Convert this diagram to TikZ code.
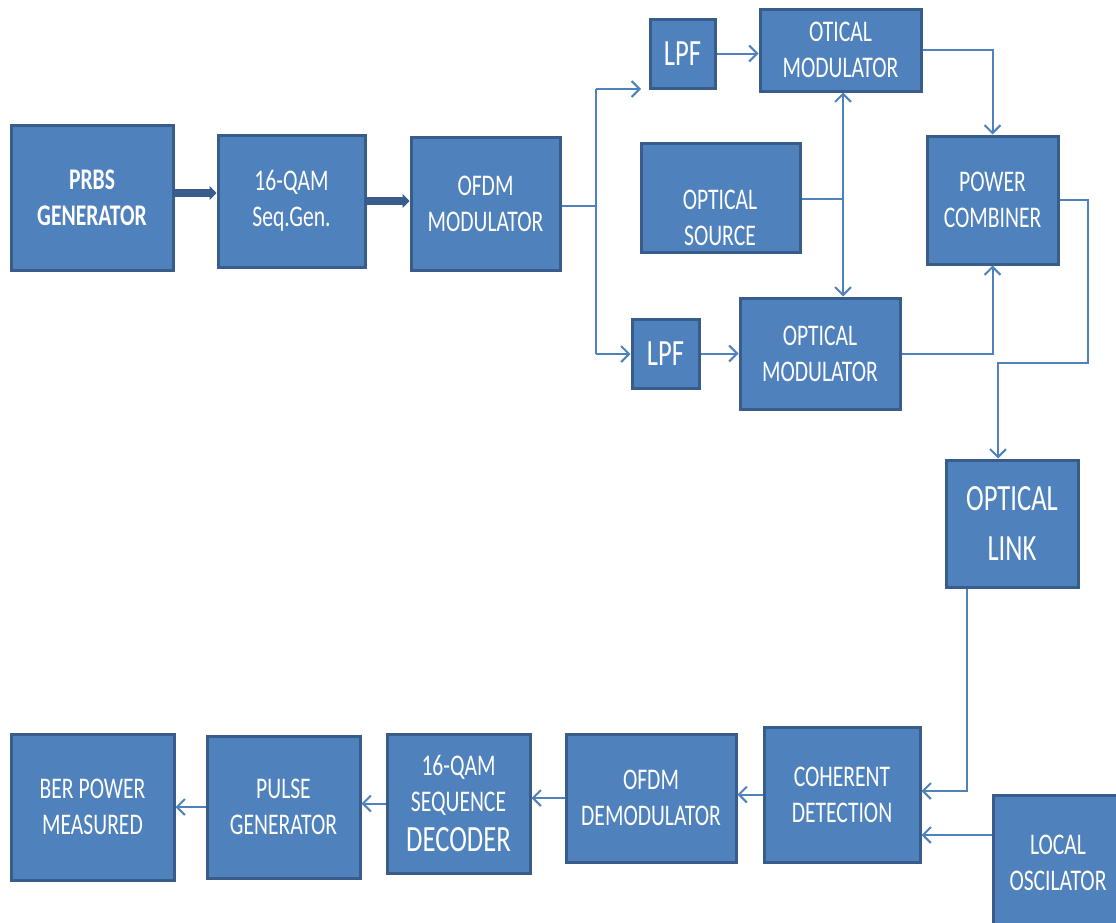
\documentclass[tikz,border=0pt]{standalone}
\usepackage{fontspec}
\usetikzlibrary{arrows.meta}
\newfontfamily\cfont[FakeStretch=0.72]{Carlito}
\definecolor{boxfill}{HTML}{4F81BD}
\definecolor{boxborder}{HTML}{385D8A}
\definecolor{lineblue}{HTML}{4F81BD}
\newcommand\txt{\cfont\fontsize{30}{36}\selectfont}
\newcommand\txtbig{\cfont\fontsize{37}{50}\selectfont}
\tikzset{
  blk/.style={draw=boxborder, fill=boxfill, line width=3pt, inner sep=0pt,
    text=white, align=center, font=\txt},
  conn/.style={draw=lineblue, line width=2pt},
  arr/.style={conn, -{Straight Barb[length=8pt,width=16pt]}},
  dblarr/.style={conn, {Straight Barb[length=8pt,width=16pt]}-{Straight Barb[length=8pt,width=16pt]}},
  fatarr/.style={draw=boxborder, line width=8pt, -{Triangle[length=7pt,width=14pt]}}
}
\begin{document}
\begin{tikzpicture}[x=1pt, y=-1pt]
\useasboundingbox (0,0) rectangle (1116,922);
% top row
\node[blk, minimum width=162pt, minimum height=145pt] (prbs) at (92,198)
  {\bfseries PRBS\\\bfseries GENERATOR};
\node[blk, minimum width=147pt, minimum height=132pt] (qam) at (291.5,201)
  {16-QAM\\Seq.Gen.};
\node[blk, minimum width=149pt, minimum height=133pt] (ofdm) at (485.5,203.5)
  {OFDM\\MODULATOR};
\node[blk, minimum width=65pt, minimum height=69pt, font=\txtbig] (lpf1) at (682.5,53.5) {LPF};
\node[blk, minimum width=161pt, minimum height=82pt] (omod1) at (840.5,50)
  {OTICAL\\MODULATOR};
\node[blk, minimum width=159pt, minimum height=109pt] (src) at (720.5,197.5) {};
\node[text=white, align=center, font=\txt] (srct) at (720,218) {OPTICAL\\SOURCE};
\node[blk, minimum width=131pt, minimum height=128pt] (comb) at (992.5,200)
  {POWER\\COMBINER};
\node[blk, minimum width=67pt, minimum height=69pt, font=\txtbig] (lpf2) at (665.5,353.5) {LPF};
\node[blk, minimum width=160pt, minimum height=111pt] (omod2) at (820,353.5)
  {OPTICAL\\MODULATOR};
\node[blk, minimum width=132pt, minimum height=127pt, font=\txtbig] (link) at (1012,523.5)
  {OPTICAL\\LINK};
% bottom row
\node[blk, minimum width=156pt, minimum height=135pt] (coh) at (842,794.5)
  {COHERENT\\DETECTION};
\node[blk, minimum width=130pt, minimum height=135pt] (lo) at (1058,862.5)
  {LOCAL\\OSCILATOR};
\node[blk, minimum width=170pt, minimum height=128pt] (demod) at (651,798)
  {OFDM\\DEMODULATOR};
\node[blk, minimum width=143pt, minimum height=139pt] (dec) at (458.5,803.5)
  {16-QAM\\SEQUENCE\\[4pt]{\fontsize{37}{44}\selectfont DECODER}};
\node[blk, minimum width=153pt, minimum height=142pt] (pulse) at (283.5,807)
  {PULSE\\GENERATOR};
\node[blk, minimum width=163pt, minimum height=146pt] (ber) at (92.5,807)
  {BER POWER\\MEASURED};
% coordinates
\coordinate (s) at (596,206);
\coordinate (sTop) at (596,89);
\coordinate (aTop) at (641,89);
\coordinate (sBot) at (596,354);
\coordinate (j) at (843,199);
\coordinate (r1) at (1088,363);
\coordinate (r2) at (998,363);
\coordinate (d1) at (967,791);
\coordinate (lo1) at (993,835);
% connectors
\draw[fatarr] ([yshift=5pt]prbs.east) -- ([yshift=5pt]prbs.east -| qam.west);
\draw[fatarr] (qam.east) -- (qam.east -| ofdm.west);
\draw[conn] (ofdm.east |- s) -- (s);
\draw[conn] (sTop) -- (sBot);
\draw[arr] (sTop) -- (aTop);
\draw[arr] (sBot) -- (sBot -| lpf2.west);
\draw[arr] (lpf1.east) -- (lpf1.east -| omod1.west);
\draw[arr] (lpf2.east) -- (lpf2.east -| omod2.west);
\draw[conn] (src.east |- j) -- (j);
\draw[dblarr] (j |- omod1.south) -- (j |- omod2.north);
\draw[arr] (omod1.east) -| (comb.north);
\draw[arr] (omod2.east) -| (comb.south);
\draw[arr] (comb.east) -| (r1) -- (r2) -- (r2 |- link.north);
\draw[arr] (d1 |- link.south) -- (d1) -- (d1 -| coh.east);
\draw[arr] (lo.west |- lo1) -- (lo1 -| coh.east);
\draw[arr] (coh.west) -- (coh.west -| demod.east);
\draw[arr] (demod.west) -- (demod.west -| dec.east);
\draw[arr] (dec.west) -- (dec.west -| pulse.east);
\draw[arr] (pulse.west) -- (pulse.west -| ber.east);
\end{tikzpicture}
\end{document}
